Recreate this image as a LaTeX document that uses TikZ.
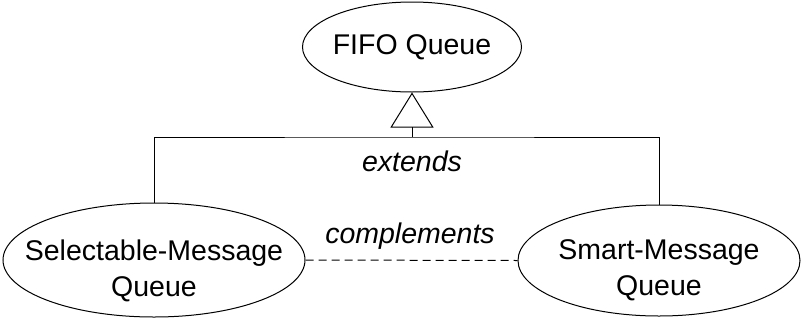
\documentclass[tikz,border=0pt]{standalone}
\usepackage{fontspec}
\setmainfont{Liberation Sans}
\usetikzlibrary{arrows.meta, shapes.geometric, calc}

\begin{document}
\begin{tikzpicture}[x=1pt, y=-1pt]
\tikzset{queue/.style={draw, ellipse, inner sep=0pt, line width=1pt}}
\tikzset{qtext/.style={align=center, inner sep=0pt, font=\fontsize{28.5}{36}\selectfont}}
\tikzset{rel/.style={inner sep=0pt, font=\fontsize{28.5}{36}\selectfont\itshape}}
\tikzset{link/.style={draw, line width=1pt}}

\useasboundingbox (0,0) rectangle (809,322);

%% Queues
\node[queue, minimum width=219pt, minimum height=90pt] at (412, 47) (fifo) {};
\node[qtext] at (412, 47) (fifot) {FIFO Queue};

\begin{scope}
    \node[queue, minimum width=302pt, minimum height=114pt] at (154, 260) (smq) {};
    \node[qtext] at (154, 270.5) (smqt) {Selectable-Message\\Queue};
    \node[queue, minimum width=282pt, minimum height=111pt] at (659, 260.5) (rmq) {};
    \node[qtext] at (659, 270.5) (rmqt) {Smart-Message\\Queue};
\end{scope}

%% Relations
\coordinate (joint) at (412, 137);
  \draw[link] (smq.north) |- (joint) -| (rmq.north);
  \draw[link, -{Triangle[open, length=35pt, width=43pt]}] (joint) -- (fifo.south);
  \draw[link, dash pattern=on 8pt off 5pt] (smq.east) -- (rmq.west);

\node[rel] at (412, 161) (ext) {extends};
\node[rel] at (410, 236) (comp) {complements};

\end{tikzpicture}
\end{document}
